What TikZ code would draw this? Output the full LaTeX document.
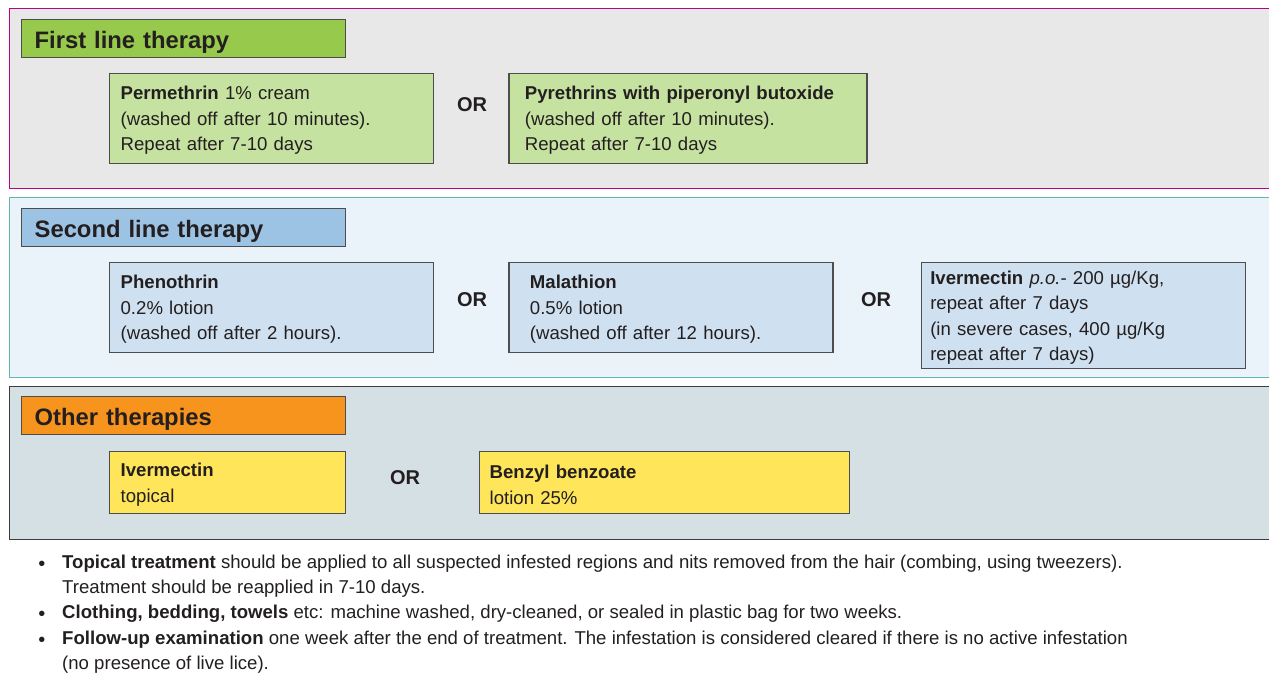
\documentclass[tikz,border=0pt]{standalone}
\usepackage{fontspec}
\setmainfont{Liberation Sans}
\usetikzlibrary{positioning}

\definecolor{ink}{RGB}{35,31,32}
\definecolor{boxline}{RGB}{77,77,77}
\definecolor{firstbg}{RGB}{232,232,232}
\definecolor{firstline}{RGB}{190,0,135}
\definecolor{secondbg}{RGB}{235,243,250}
\definecolor{secondline}{RGB}{100,182,178}
\definecolor{otherbg}{RGB}{213,224,229}
\definecolor{otherline}{RGB}{60,60,60}
\definecolor{firsthead}{RGB}{150,201,76}
\definecolor{secondhead}{RGB}{157,195,228}
\definecolor{otherhead}{RGB}{247,148,30}
\definecolor{firstdrug}{RGB}{197,226,160}
\definecolor{seconddrug}{RGB}{207,225,240}
\definecolor{otherdrug}{RGB}{255,229,90}

\begin{document}
\begin{tikzpicture}[
                    x=1pt,
                    y=-1pt,
                    every node/.style={text=ink},
                    panel/.style={anchor=north west, inner sep=0pt, line width=1.3pt, minimum width=1275pt},
                    heading/.style={draw=boxline, line width=1.3pt, anchor=north west, minimum height=38pt,
                                    inner xsep=13pt, inner ysep=0pt, text width=298pt, align=left,
                                    text height=19pt, text depth=0pt,
                                    font=\fontsize{23.8}{28}\selectfont\bfseries},
                    drug/.style={draw=boxline, line width=1.3pt, anchor=north west, inner ysep=0pt, align=left,
                                 execute at begin node={\rule{0pt}{17.5pt}},
                                 font=\fontsize{18.6}{25.5}\selectfont},
                    choice/.style={font=\fontsize{20}{24}\selectfont\bfseries},
                    tip/.style={anchor=west, inner sep=0pt, align=left, font=\fontsize{18.6}{25.3}\selectfont},
                    dot/.style={inner sep=0pt, font=\fontsize{20}{25.3}\selectfont}
                ]
                \useasboundingbox (0,0) rectangle (1269,673);

                % the three bands
                \node[panel, fill=firstbg, draw=firstline, minimum height=180pt] (first) at (9,8) {};
                \node[panel, fill=secondbg, draw=secondline, minimum height=180pt] (second) at (9,197) {};
                \node[panel, fill=otherbg, draw=otherline, minimum height=153pt] (other) at (9,386) {};

                \node[heading, fill=firsthead] (firsthd) at (21,19) {First line therapy};
                \node[heading, fill=secondhead] (secondhd) at (21,208) {Second line therapy};
                \node[heading, fill=otherhead] (otherhd) at (21,396) {Other therapies};

                % first line
                \node[drug, fill=firstdrug, minimum height=90pt, inner xsep=11pt, text width=302pt] (perm) at (109,73)
                    {\textbf{Permethrin} 1\% cream\\(washed off after 10 minutes).\\Repeat after 7-10 days};
                \node[drug, fill=firstdrug, minimum height=90pt, inner xsep=16pt, text width=326pt] (pyre) [right=74pt of perm]
                    {\textbf{Pyrethrins with piperonyl butoxide}\\(washed off after 10 minutes).\\Repeat after 7-10 days};

                % second line
                \node[drug, fill=seconddrug, minimum height=90pt, inner xsep=11pt, text width=302pt] (pheno) at (109,262)
                    {\textbf{Phenothrin}\\0.2\% lotion\\(washed off after 2 hours).};
                \node[drug, fill=seconddrug, minimum height=90pt, inner xsep=21pt, text width=282pt] (mala) [right=74pt of pheno]
                    {\textbf{Malathion}\\0.5\% lotion\\(washed off after 12 hours).};
                \node[drug, fill=seconddrug, minimum height=106pt, inner xsep=9pt, text width=306pt] (iverpo) [right=87pt of mala.north east, anchor=north west]
                    {\textbf{Ivermectin} \textit{p.o.}- 200 µg/Kg,\\repeat after 7 days\\(in severe cases, 400 µg/Kg\\repeat after 7 days)};

                % other
                \node[drug, fill=otherdrug, minimum height=62pt, inner xsep=11pt, text width=214pt] (ivertop) at (109,451)
                    {\textbf{Ivermectin}\\topical};
                \node[drug, fill=otherdrug, minimum height=62pt, inner xsep=10pt, text width=350pt] (benzyl) at (479,451)
                    {\textbf{Benzyl benzoate}\\lotion 25\%};

                \node[choice] (or1) at (472,105) {OR};
                \node[choice] (or2) at (472,300) {OR};
                \node[choice] (or3) at (876,300) {OR};
                \node[choice] (or4) at (405,478) {OR};

                % notes below
                \node[dot] (dot1) at (42,566) {\textbullet};
                \node[dot] (dot2) at (42,616) {\textbullet};
                \node[dot] (dot3) at (42,642) {\textbullet};
                \node[tip] (tip1) at (62,576.5)
                    {\textbf{Topical treatment} should be applied to all suspected infested regions and nits removed from the hair (combing, using tweezers).\\Treatment should be reapplied in 7-10 days.};
                \node[tip] (tip2) at (62,614)
                    {\textbf{Clothing, bedding, towels} etc: machine washed, dry-cleaned, or sealed in plastic bag for two weeks.};
                \node[tip] (tip3) at (62,652.5)
                    {\textbf{Follow-up examination} one week after the end of treatment. The infestation is considered cleared if there is no active infestation\\(no presence of live lice).};
            \end{tikzpicture}
\end{document}
